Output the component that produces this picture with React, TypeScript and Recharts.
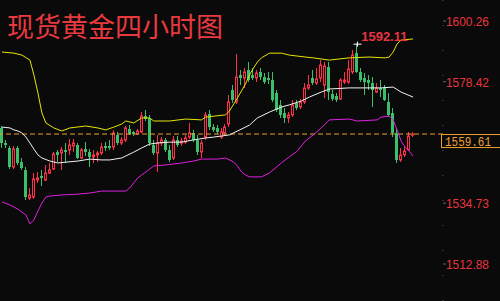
import React from 'react';
import { ComposedChart, Bar, Line, XAxis, YAxis, ReferenceLine, ReferenceDot } from 'recharts';

// 4h candles: [open, high, low, close]
const candles: [number, number, number, number][] = [
  [1561.78, 1562.5, 1554.59, 1556.39],
  [1556.39, 1557.47, 1554.59, 1555.67],
  [1554.59, 1555.31, 1547.04, 1547.76],
  [1547.76, 1555.31, 1547.04, 1554.23],
  [1554.59, 1555.31, 1548.48, 1549.2],
  [1549.55, 1550.99, 1546.68, 1547.4],
  [1546.68, 1547.76, 1535.89, 1536.97],
  [1536.61, 1540.21, 1535.89, 1537.69],
  [1536.97, 1545.6, 1536.25, 1543.44],
  [1543.08, 1545.96, 1542.0, 1543.8],
  [1544.52, 1546.68, 1540.92, 1543.8],
  [1543.08, 1548.48, 1542.72, 1545.6],
  [1545.6, 1549.2, 1545.24, 1546.68],
  [1547.04, 1553.15, 1546.68, 1552.43],
  [1553.15, 1553.87, 1549.55, 1552.07],
  [1552.79, 1554.95, 1546.68, 1553.87],
  [1553.87, 1556.39, 1549.2, 1553.15],
  [1553.87, 1557.83, 1552.07, 1555.67],
  [1555.31, 1557.83, 1553.15, 1556.39],
  [1555.67, 1556.39, 1550.63, 1550.99],
  [1550.99, 1554.59, 1550.63, 1553.87],
  [1554.23, 1556.75, 1551.71, 1553.15],
  [1553.15, 1554.23, 1547.76, 1551.35],
  [1551.35, 1553.87, 1549.2, 1552.07],
  [1552.07, 1553.51, 1549.55, 1552.79],
  [1552.79, 1556.39, 1552.07, 1554.95],
  [1555.31, 1556.75, 1553.51, 1554.59],
  [1555.31, 1557.47, 1553.87, 1554.59],
  [1554.95, 1561.06, 1553.87, 1559.98],
  [1559.26, 1560.34, 1555.67, 1556.39],
  [1556.39, 1558.54, 1555.67, 1557.47],
  [1557.47, 1562.5, 1556.75, 1561.78],
  [1561.42, 1562.86, 1559.26, 1559.62],
  [1560.34, 1560.7, 1558.9, 1559.62],
  [1559.62, 1561.42, 1559.26, 1560.7],
  [1560.34, 1567.53, 1559.98, 1566.1],
  [1566.1, 1568.25, 1564.3, 1565.02],
  [1565.38, 1566.46, 1555.31, 1556.39],
  [1555.67, 1557.47, 1552.07, 1552.79],
  [1552.79, 1559.26, 1545.96, 1556.39],
  [1556.39, 1558.54, 1555.31, 1557.47],
  [1557.47, 1558.19, 1553.15, 1553.87],
  [1553.87, 1555.67, 1549.55, 1550.27],
  [1550.99, 1558.9, 1550.27, 1557.47],
  [1557.47, 1558.9, 1554.95, 1555.67],
  [1556.39, 1558.19, 1555.31, 1557.11],
  [1556.75, 1559.26, 1556.03, 1558.19],
  [1558.54, 1563.58, 1557.83, 1559.98],
  [1559.98, 1561.06, 1556.75, 1557.47],
  [1557.47, 1559.26, 1552.07, 1553.15],
  [1553.15, 1557.47, 1550.99, 1556.39],
  [1558.54, 1567.53, 1557.47, 1566.46],
  [1566.82, 1568.25, 1561.06, 1562.14],
  [1562.14, 1563.22, 1560.34, 1561.06],
  [1561.78, 1562.86, 1559.62, 1560.34],
  [1558.54, 1561.78, 1557.83, 1560.34],
  [1559.98, 1563.22, 1559.26, 1562.14],
  [1563.22, 1573.65, 1562.14, 1571.13],
  [1575.45, 1577.24, 1570.77, 1571.85],
  [1571.13, 1588.39, 1570.41, 1580.12],
  [1580.84, 1582.64, 1577.24, 1579.76],
  [1579.76, 1583.36, 1576.17, 1581.92],
  [1582.64, 1585.51, 1578.32, 1579.04],
  [1580.84, 1583.36, 1579.04, 1579.76],
  [1579.76, 1582.64, 1578.32, 1581.56],
  [1581.92, 1583.36, 1579.04, 1580.12],
  [1580.12, 1581.56, 1577.6, 1578.32],
  [1579.76, 1581.92, 1577.6, 1579.04],
  [1579.04, 1581.92, 1571.13, 1571.85],
  [1574.37, 1575.45, 1567.53, 1568.25],
  [1570.05, 1571.85, 1565.38, 1566.46],
  [1567.18, 1568.97, 1563.58, 1565.38],
  [1565.38, 1567.53, 1563.58, 1566.46],
  [1566.46, 1571.85, 1565.74, 1570.05],
  [1570.77, 1571.85, 1568.25, 1568.97],
  [1569.33, 1572.21, 1568.61, 1571.13],
  [1571.13, 1577.96, 1570.41, 1576.17],
  [1576.17, 1580.84, 1575.45, 1577.24],
  [1579.76, 1582.64, 1577.24, 1577.96],
  [1577.96, 1583.36, 1577.24, 1579.4],
  [1579.76, 1586.23, 1578.32, 1584.44],
  [1577.24, 1585.51, 1572.57, 1584.08],
  [1583.72, 1585.51, 1571.85, 1574.73],
  [1574.01, 1575.45, 1571.49, 1572.21],
  [1573.29, 1574.37, 1571.13, 1571.85],
  [1572.21, 1579.76, 1571.85, 1579.04],
  [1578.32, 1581.92, 1577.6, 1579.04],
  [1578.32, 1586.23, 1577.6, 1583.0],
  [1581.92, 1589.83, 1581.2, 1588.03],
  [1588.75, 1592.11, 1581.56, 1581.92],
  [1581.92, 1583.36, 1578.32, 1579.04],
  [1579.76, 1581.56, 1573.65, 1578.32],
  [1579.04, 1580.84, 1575.45, 1577.96],
  [1577.96, 1580.12, 1569.33, 1575.45],
  [1574.73, 1577.96, 1574.37, 1576.17],
  [1576.17, 1579.04, 1572.93, 1575.45],
  [1576.52, 1577.24, 1571.49, 1571.85],
  [1571.13, 1574.37, 1565.74, 1566.46],
  [1567.18, 1568.97, 1558.54, 1559.98],
  [1559.98, 1561.78, 1549.2, 1550.27],
  [1550.27, 1554.59, 1549.55, 1552.07],
  [1552.07, 1554.95, 1551.35, 1553.51],
  [1553.87, 1560.34, 1553.51, 1558.9],
  [1559.26, 1560.34, 1558.54, 1559.61],
];

// Bollinger bands read at candle index: [index, price]
const upperBand: [number, number][] = [
  [0, 1589.1], [3, 1588.7], [5, 1588.0], [7, 1586.2], [8, 1580.8], [9, 1574.4], [10, 1567.2],
  [11, 1563.6], [13, 1561.8], [15, 1560.7], [17, 1561.8], [21, 1562.5], [24, 1561.8], [26, 1561.1],
  [28, 1562.1], [30, 1563.2], [31, 1564.3], [33, 1563.6], [35, 1565.4], [37, 1565.4], [38, 1564.3],
  [42, 1564.3], [46, 1565.0], [50, 1564.7], [51, 1565.7], [56, 1566.5], [57, 1567.9], [59, 1572.6],
  [60, 1575.1], [61, 1577.6], [62, 1580.8], [63, 1583.3], [64, 1585.5], [65, 1587.0], [67, 1588.7],
  [70, 1588.7], [72, 1588.0], [76, 1587.3], [78, 1587.0], [82, 1586.2], [87, 1587.0], [92, 1587.3],
  [96, 1587.0], [97, 1587.3], [98, 1589.1], [99, 1592.0], [100, 1593.4], [103, 1593.8],
];

const middleBand: [number, number][] = [
  [0, 1562.1], [2, 1561.8], [3, 1561.1], [4, 1560.7], [5, 1560.0], [6, 1558.5], [7, 1556.4],
  [8, 1554.2], [9, 1552.1], [10, 1551.0], [12, 1549.9], [14, 1549.2], [16, 1549.5], [19, 1549.9],
  [22, 1550.6], [25, 1550.3], [27, 1550.3], [30, 1551.0], [31, 1551.7], [33, 1553.1], [35, 1554.6],
  [37, 1556.0], [39, 1556.4], [42, 1556.7], [45, 1556.7], [48, 1557.5], [51, 1558.2], [53, 1558.5],
  [55, 1558.9], [57, 1559.3], [59, 1560.7], [62, 1562.8], [64, 1565.4], [67, 1567.5], [70, 1569.3],
  [72, 1570.1], [75, 1571.5], [77, 1572.9], [80, 1574.7], [82, 1575.8], [87, 1576.2], [95, 1576.2],
  [98, 1576.5], [100, 1574.7], [103, 1572.9],
];

const lowerBand: [number, number][] = [
  [0, 1535.2], [2, 1534.1], [4, 1532.6], [6, 1530.5], [7, 1527.3], [8, 1528.7], [9, 1531.9],
  [10, 1534.8], [11, 1537.0], [12, 1537.3], [15, 1537.7], [19, 1538.0], [22, 1538.4], [25, 1539.1],
  [31, 1539.1], [32, 1540.2], [33, 1542.0], [34, 1543.8], [35, 1544.9], [37, 1547.0], [38, 1548.1],
  [41, 1548.5], [45, 1549.2], [48, 1549.9], [50, 1550.6], [54, 1550.6], [56, 1551.0], [58, 1549.6],
  [59, 1548.1], [60, 1546.0], [61, 1544.9], [62, 1544.2], [65, 1544.2], [67, 1545.6], [70, 1549.2],
  [72, 1551.4], [74, 1553.5], [75, 1555.3], [76, 1557.1], [78, 1559.3], [80, 1561.8], [82, 1564.7],
  [87, 1565.0], [89, 1564.3], [94, 1564.7], [95, 1565.7], [97, 1566.1], [98, 1564.7], [99, 1561.1],
  [100, 1557.1], [101, 1554.9], [102, 1553.5], [103, 1551.7],
];

const priceTicks = [1600.26, 1578.42, 1534.73, 1512.88];
const lastPrice = 1559.61;
const highIndex = 89;
const highPrice = 1592.11;
const emptySlots = 7;

const RED = '#ff3048';
const GREEN = '#3cbf6a';

const data = Array.from({ length: candles.length + emptySlots }, (_, i) => {
  const c = candles[i];
  const row: any = { i };
  if (c) {
    row.open = c[0];
    row.high = c[1];
    row.low = c[2];
    row.close = c[3];
    row.range = [c[2], c[1]];
  }
  const u = upperBand.find((p) => p[0] === i);
  const m = middleBand.find((p) => p[0] === i);
  const l = lowerBand.find((p) => p[0] === i);
  if (u) row.upper = u[1];
  if (m) row.middle = m[1];
  if (l) row.lower = l[1];
  return row;
});

function Candle(props: any) {
  const { x, y, width, height, payload } = props;
  if (!payload || payload.open == null) return null;
  const { open, high, low, close } = payload;
  const top = Math.min(y, y + height);
  const span = Math.abs(height);
  const py = (p: number) => top + ((high - p) / (high - low)) * span;
  const cx = Math.floor(x + width / 2) + 0.5;
  const up = close >= open;
  const bTop = py(Math.max(open, close));
  const bBot = Math.max(py(Math.min(open, close)), bTop + 1);
  if (up) {
    return (
      <g>
        <line x1={cx} x2={cx} y1={top} y2={bTop} stroke={RED} />
        <line x1={cx} x2={cx} y1={bBot} y2={top + span} stroke={RED} />
        <rect x={cx - 1} y={bTop} width={2} height={bBot - bTop} fill="none" stroke={RED} />
      </g>
    );
  }
  return (
    <g>
      <line x1={cx} x2={cx} y1={top} y2={top + span} stroke={GREEN} />
      <rect x={cx - 1.5} y={bTop} width={3} height={bBot - bTop} fill={GREEN} />
    </g>
  );
}

function PriceTick(props: any) {
  const { x, y, payload } = props;
  return (
    <g>
      <line x1={x} x2={x + 3} y1={y} y2={y} stroke="#666" />
      <text
        x={x + 3}
        y={y}
        dy="0.36em"
        fill="#e8353f"
        fontSize={13.5}
        fontFamily="Liberation Sans, Arial, sans-serif"
        textLength={43}
        lengthAdjust="spacingAndGlyphs"
      >
        {payload.value.toFixed(2)}
      </text>
    </g>
  );
}

function PriceTag(props: any) {
  const vb = props.viewBox || {};
  const right = vb.x + vb.width;
  return (
    <g>
      <rect x={right - 1.5} y={vb.y + 0.5} width={62} height={13} fill="#0a0a0a" stroke="#f0a030" />
      <text
        x={right + 2}
        y={vb.y + 7.5}
        dy="0.36em"
        fill="#f0a030"
        fontSize={13}
        fontFamily="Liberation Mono, DejaVu Sans Mono, monospace"
        textLength={46}
        lengthAdjust="spacingAndGlyphs"
      >
        {lastPrice.toFixed(2)}
      </text>
    </g>
  );
}

function HighMark(props: any) {
  const { cx, cy } = props;
  if (cx == null || cy == null) return null;
  const x0 = Math.floor(cx) + 0.5;
  return (
    <g>
      <line x1={x0 - 4} x2={x0 + 4} y1={cy + 0.5} y2={cy + 0.5} stroke="#fff" />
      <line x1={x0} x2={x0} y1={cy - 2} y2={cy + 3} stroke="#fff" />
      <text
        x={cx + 4}
        y={cy - 7}
        dy="0.36em"
        fill="#e8353f"
        fontSize={13}
        fontWeight="bold"
        fontFamily="Liberation Sans, Arial, sans-serif"
      >
        {highPrice.toFixed(2)}
      </text>
    </g>
  );
}

export default function App() {
  return (
    <div style={{ position: 'fixed', left: 0, top: 0, width: 500, height: 301, background: '#0a0a0a' }}>
      <ComposedChart width={500} height={301} data={data} margin={{ top: 0, right: 0, bottom: 0, left: 0 }}>
        <XAxis dataKey="i" type="category" hide />
        <YAxis
          orientation="right"
          width={57}
          domain={[1499.57, 1607.81]}
          allowDataOverflow
          ticks={priceTicks}
          interval={0}
          tickSize={0}
          tickMargin={0}
          tick={<PriceTick />}
          axisLine={{ stroke: '#555', strokeDasharray: '1 24' }}
        />
        <ReferenceLine
          y={lastPrice}
          stroke="#f0a030"
          strokeDasharray="5 3"
          label={<PriceTag />}
        />
        <Line dataKey="upper" type="linear" stroke="#e6e600" strokeWidth={1} dot={false} activeDot={false} connectNulls isAnimationActive={false} />
        <Line dataKey="middle" type="linear" stroke="#f2f2f2" strokeWidth={1} dot={false} activeDot={false} connectNulls isAnimationActive={false} />
        <Line dataKey="lower" type="linear" stroke="#e020e0" strokeWidth={1} dot={false} activeDot={false} connectNulls isAnimationActive={false} />
        <Bar dataKey="range" barSize={3} shape={<Candle />} activeBar={false} isAnimationActive={false} />
        <ReferenceDot x={highIndex} y={highPrice} r={0} shape={<HighMark />} />
      </ComposedChart>
      <div
        style={{
          position: 'absolute',
          left: 7,
          top: 10,
          fontFamily: '"Noto Sans CJK SC", sans-serif',
          fontSize: 27,
          lineHeight: '32px',
          color: '#e8393f',
          whiteSpace: 'nowrap',
        }}
      >
        现货黄金四小时图
      </div>
    </div>
  );
}
